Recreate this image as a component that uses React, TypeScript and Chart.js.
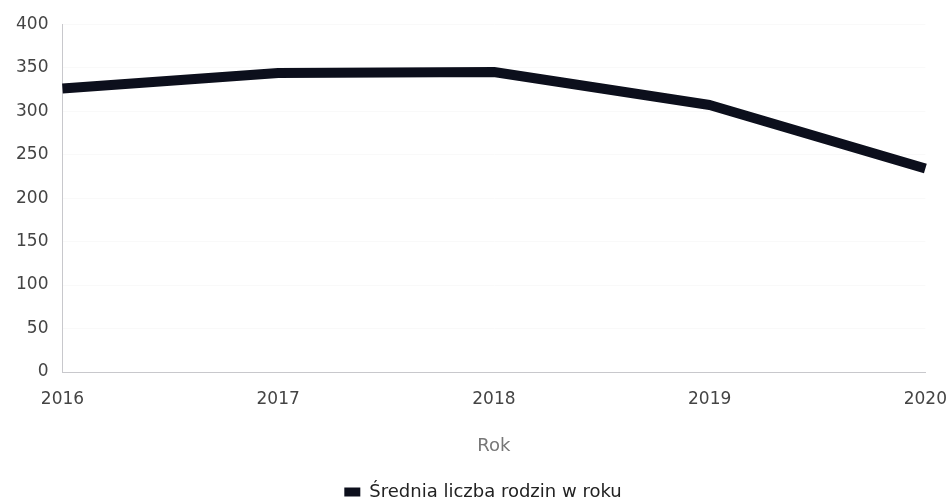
import React, { useEffect, useRef } from "react";
import { Chart, registerables } from "chart.js";

Chart.register(...registerables);

const years = ["2016", "2017", "2018", "2019", "2020"];
const avgFamilies = [326, 344, 345, 307, 234];
const yTicks = [0, 50, 100, 150, 200, 250, 300, 350, 400];
const seriesLabel = "Średnia liczba rodzin w roku";
const xTitle = "Rok";

const FONT = "'DejaVu Sans', sans-serif";

export default function App() {
  const ref = useRef<HTMLCanvasElement | null>(null);
  useEffect(() => {
    if (!ref.current) return;
    const chart = new Chart(ref.current, {
      type: "line",
      data: {
        labels: years,
        datasets: [
          {
            label: seriesLabel,
            data: avgFamilies,
            borderColor: "#0c0f1c",
            backgroundColor: "#0c0f1c",
            borderWidth: 10,
            borderCapStyle: "butt",
            borderJoinStyle: "round",
            pointRadius: 0,
            tension: 0,
          },
        ],
      },
      options: {
        animation: false,
        responsive: true,
        maintainAspectRatio: false,
        layout: { padding: { left: 7, right: 0, top: 0, bottom: 0 } },
        scales: {
          x: {
            offset: false,
            grid: { display: false, drawTicks: false },
            border: { display: true, color: "#c8c8cc", width: 1 },
            ticks: {
              color: "#444",
              font: { family: FONT, size: 17 },
              padding: 17,
              maxRotation: 0,
            },
            title: {
              display: true,
              text: xTitle,
              color: "#777",
              font: { family: FONT, size: 18 },
              padding: { top: 9, bottom: 20 },
            },
          },
          y: {
            min: 0,
            max: 400,
            afterBuildTicks: (axis: any) => {
              axis.ticks = yTicks.map((v) => ({ value: v }));
            },
            grid: { color: "rgba(0,0,0,0.025)", drawTicks: false },
            border: { display: true, color: "#c8c8cc", width: 1 },
            ticks: {
              color: "#444",
              font: { family: FONT, size: 17 },
              padding: 14,
            },
          },
        },
        plugins: {
          legend: {
            position: "bottom",
            labels: {
              boxWidth: 16,
              boxHeight: 9,
              color: "#222",
              font: { family: FONT, size: 18 },
              padding: 6,
              generateLabels: (c: any) =>
                Chart.defaults.plugins.legend.labels
                  .generateLabels(c)
                  .map((l: any) => ({ ...l, lineWidth: 0 })),
            },
          },
          tooltip: { enabled: false },
        },
      },
    });
    return () => chart.destroy();
  }, []);
  return (
    <div
      style={{
        position: "fixed",
        top: 0,
        left: 8,
        width: 944,
        height: 503,
        overflow: "hidden",
      }}
    >
      <div
        style={{
          width: 969,
          height: 511,
          marginLeft: -13,
          position: "relative",
        }}
      >
        <canvas ref={ref} />
      </div>
    </div>
  );
}
